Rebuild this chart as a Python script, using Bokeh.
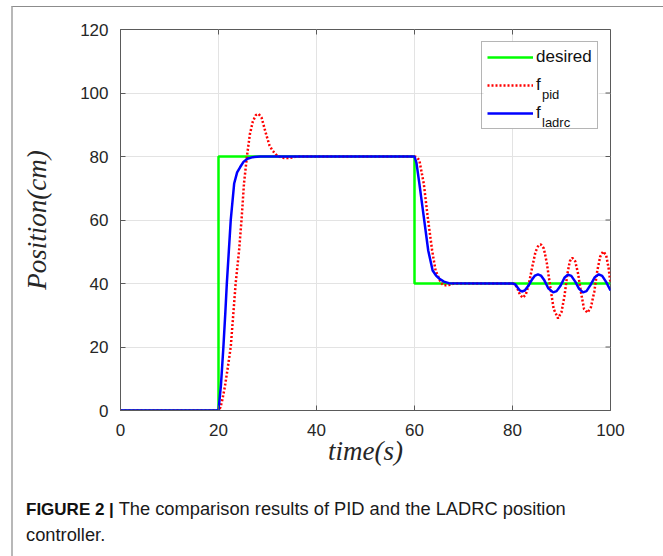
from bokeh.plotting import figure
from bokeh.models import Range1d, FixedTicker, Legend, LegendItem, Label, Div, BoxAnnotation
from bokeh.layouts import column
from bokeh.embed import file_html
from bokeh.resources import INLINE

x_ticks = [0, 20, 40, 60, 80, 100]
y_ticks = [0, 20, 40, 60, 80, 100, 120]

desired_t = [0, 20, 20, 60, 60, 100]
desired_v = [0, 0, 80, 80, 40, 40]

pid_t = [0, 20, 20.4, 20.8, 21.3, 21.8, 22.5, 23.0, 23.5, 24.2, 24.7, 25.2, 25.8, 26.4, 27.0, 27.6, 28.2, 28.8,
         29.7, 30.4, 31.0, 32.0, 33.0, 34.0, 35.0, 36.0,
         60.0, 60.5, 61.0, 61.9, 62.7, 63.6, 64.3, 65.4, 66.0, 67.0, 68.0,
         80.0, 80.5, 81.0, 81.5, 82.1, 82.7, 83.3, 84.0, 84.7, 85.3, 85.8, 86.4, 87.0, 87.7, 88.4, 89.3, 90.0,
         90.6, 91.2, 91.7, 92.2, 92.8, 93.4, 94.0, 94.6, 95.3, 96.0, 96.7, 97.3, 97.9, 98.5, 99.1, 99.6, 100.0]
pid_v = [0, 0, 1, 3.5, 7.5, 12.5, 20, 30, 40, 50.4, 60, 71.5, 80, 87, 91, 93, 93.4, 92.2,
         87.1, 83.5, 81.9, 80.2, 79.6, 79.5, 79.7, 80,
         80, 79.8, 78.7, 71.4, 60.9, 50.4, 44.1, 40.2, 39.4, 39.5, 40,
         40, 39.8, 38.5, 36.5, 35.5, 36.5, 39.5, 45, 50, 52, 52.3, 51, 46.5, 39, 32, 29, 31,
         36, 43, 47, 48.1, 47, 43, 37, 32, 30.8, 32.5, 37.5, 44, 48.5, 50.1, 49, 45, 40]

ladrc_t = [0, 20, 20.5, 21.0, 21.4, 21.7, 22.1, 22.5, 23.2, 23.8, 24.4, 25.1, 25.9, 27.0, 28.5,
           60.0, 60.4, 61.0, 61.9, 62.8, 63.7, 64.4, 65.1, 66.0, 67.0,
           80.0, 80.5, 81.0, 81.5, 81.9, 82.5, 83.2, 84.0, 84.6, 85.2, 85.8, 86.5, 87.3, 88.3, 89.0, 89.8,
           90.6, 91.3, 92.0, 92.8, 93.6, 94.4, 95.1, 95.9, 96.8, 97.6, 98.3, 99.1, 100.0]
ladrc_v = [0, 0, 8, 20, 31, 40, 50, 60, 71.5, 75, 76.6, 78.3, 79.3, 79.8, 80,
           80, 78, 71.4, 60.9, 50.4, 44.1, 42.5, 41.5, 40.6, 40.1,
           40, 39.8, 38.8, 37.8, 37.5, 37.8, 39.2, 41.3, 42.5, 42.9, 42.5, 41.0, 38.5, 37.2, 37.6, 39.3,
           41.8, 42.8, 42.4, 40.6, 38.3, 37.2, 37.6, 39.5, 42, 42.9, 42.4, 40.5, 37.8]

series_labels = ["desired", "f", "f"]
subscripts = ["pid", "ladrc"]
caption_bold = "FIGURE 2 |"
caption_line1 = "The comparison results of PID and the LADRC position"
caption_line2 = "controller."

AX = "#5a5a5a"
TXT = "#262626"
FONT = "Liberation Sans"
X0, X1, Y0, Y1 = 0, 100, 0, 120

p = figure(width=650, height=475, x_range=Range1d(X0, X1), y_range=Range1d(Y0, Y1),
           output_backend="svg", toolbar_location=None,
           min_border_left=107, min_border_right=53, min_border_top=22, min_border_bottom=72,
           background_fill_color="white", border_fill_color="white")

p.outline_line_color = AX
p.outline_line_width = 1

for ax in (p.xaxis[0], p.yaxis[0]):
    ax.major_tick_in = 5
    ax.major_tick_out = 0
    ax.minor_tick_line_color = None
    ax.axis_line_color = AX
    ax.major_tick_line_color = AX
    ax.major_label_text_font = FONT
    ax.major_label_text_font_size = "17px"
    ax.major_label_text_color = TXT
    ax.axis_label_text_font = "Liberation Serif"
    ax.axis_label_text_font_style = "italic"
    ax.axis_label_text_font_size = "27px"
    ax.axis_label_text_color = TXT

p.xaxis[0].ticker = FixedTicker(ticks=x_ticks)
p.yaxis[0].ticker = FixedTicker(ticks=y_ticks)
p.xaxis[0].axis_label = "time(s)"
p.yaxis[0].axis_label = "Position(cm)"
p.xaxis[0].major_label_standoff = 13
p.xaxis[0].axis_label_standoff = -3
p.yaxis[0].major_label_standoff = 12
p.yaxis[0].axis_label_standoff = 25

p.xgrid.ticker = FixedTicker(ticks=x_ticks)
p.ygrid.ticker = FixedTicker(ticks=y_ticks)
p.grid.grid_line_color = "#e3e3e3"
p.grid.grid_line_width = 1

# inward tick marks on the top and right edges of the box (5 px long)
tick_dy = 5 * (Y1 - Y0) / 381
tick_dx = 5 * (X1 - X0) / 490
p.segment(x0=x_ticks, x1=x_ticks, y0=[Y1] * len(x_ticks), y1=[Y1 - tick_dy] * len(x_ticks),
          line_color=AX, line_width=1)
p.segment(x0=[X1] * len(y_ticks), x1=[X1 - tick_dx] * len(y_ticks), y0=y_ticks, y1=y_ticks,
          line_color=AX, line_width=1)

# opaque white backing for the legend box (drawn above the grid, below the text)
legend_bg = BoxAnnotation(left=74.1, right=97.6, top=116.3, bottom=88.7,
                          fill_color="white", fill_alpha=1.0, line_color=None,
                          level="underlay", propagate_hover=False)
p.add_layout(legend_bg)

r_des = p.line(desired_t, desired_v, line_color="#00ff00", line_width=2.5)
r_pid = p.line(pid_t, pid_v, line_color="#ff0000", line_width=2.5, line_dash="2 2")
r_lad = p.line(ladrc_t, ladrc_v, line_color="#0000ff", line_width=2.5)

legend = Legend(items=[LegendItem(label=series_labels[0], renderers=[r_des]),
                       LegendItem(label=series_labels[1], renderers=[r_pid]),
                       LegendItem(label=series_labels[2], renderers=[r_lad])],
                location=(361, 281), margin=0, padding=5, spacing=8,
                glyph_width=46, glyph_height=20, label_height=20, label_standoff=3,
                label_text_font=FONT, label_text_font_size="17px", label_text_color="#111111",
                border_line_color="#6b6b6b", border_line_width=1,
                background_fill_color="white", background_fill_alpha=0.0)
p.add_layout(legend, "center")

p.add_layout(Label(x=421.5, y=316.5, x_units="screen", y_units="screen", text=subscripts[0],
                   text_font=FONT, text_font_size="13px", text_color="#111111",
                   text_baseline="alphabetic", level="overlay"))
p.add_layout(Label(x=421.5, y=288, x_units="screen", y_units="screen", text=subscripts[1],
                   text_font=FONT, text_font_size="13px", text_color="#111111",
                   text_baseline="alphabetic", level="overlay"))

caption = Div(
    text=(f'<span style="font-weight:bold;font-size:17px;color:#111">{caption_bold}</span> '
          f'{caption_line1}<br>{caption_line2}'),
    width=640, height=70,
    styles={"font-family": "'Liberation Sans', Arial, sans-serif", "font-size": "18.3px",
            "line-height": "25px", "color": "#1a1a1a", "padding-left": "8px", "padding-top": "9px",
            "white-space": "nowrap"})

layout = column(p, caption,
                styles={"margin-left": "11px", "margin-top": "6px",
                        "border-left": "2px solid #b8b8b8", "border-top": "1px solid #8c8c8c"})

open("out.html", "w").write(file_html(layout, INLINE))
